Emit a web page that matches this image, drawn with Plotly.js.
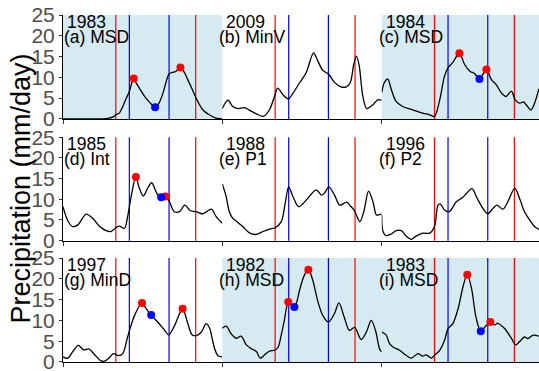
<!DOCTYPE html>
<html>
<head>
<meta charset="utf-8">
<script src="https://cdn.plot.ly/plotly-3.0.1.min.js"></script>
<style>html,body{margin:0;padding:0;overflow:hidden;background:#fff}</style>
</head>
<body>
<div id="chart" style="width:539px;height:371px"></div>
<script>
// ---- data (day of year, precipitation mm/day) ----
const years  = ["1983", "2009", "1984", "1985", "1988", "1996", "1997", "1982", "1983"];
const labels = ["(a) MSD", "(b) MinV", "(c) MSD", "(d) Int", "(e) P1", "(f) P2", "(g) MinD", "(h) MSD", "(i) MSD"];
const shaded = [true, false, true, false, false, false, false, true, true];
const redLines  = [121, 304];
const blueLines = [152, 243];
const yTicks = [0, 5, 10, 15, 20, 25];

const dayA  = [0, 60, 90, 105, 115, 121, 129, 137, 145, 152, 158, 162, 168, 175, 190, 202, 211, 220, 229, 237, 243, 250, 258, 269, 278, 286, 295, 305, 320, 335, 350, 365];
const precA = [0, 0, 0, 0.2, 0.5, 1.0, 1.4, 3.0, 5.0, 6.6, 8.8, 9.7, 8.6, 7.4, 5.0, 3.6, 2.8, 3.8, 6.2, 9.2, 10.8, 11.2, 11.4, 12.4, 11.2, 9.4, 7.4, 5.0, 2.2, 1.0, 0.2, 0];

const dayB  = [0, 13, 24, 36, 51, 62, 78, 94, 108, 120, 127, 139, 151, 162, 177, 192, 209, 219, 230, 244, 257, 272, 284, 293, 301, 307, 313, 322, 331, 345, 356, 365];
const precB = [2.5, 4.5, 3.0, 2.5, 2.7, 2.1, 1.2, 0.6, 2.2, 5.6, 7.4, 5.8, 4.8, 6.2, 8.7, 11.1, 15.9, 13.9, 11.7, 10.7, 8.8, 7.7, 7.7, 8.7, 13.1, 15.1, 13.1, 5.4, 2.5, 3.4, 4.6, 4.5];

const dayC  = [0, 6, 14, 22, 33, 48, 71, 94, 110, 121, 133, 144, 152, 163, 178, 190, 202, 213, 224, 240, 251, 262, 274, 285, 297, 306, 316, 325, 331, 342, 350, 360];
const precC = [6.4, 8.7, 9.6, 7.1, 4.2, 3.0, 2.2, 1.4, 1.0, 0.6, 4.6, 10.3, 12.3, 13.6, 15.8, 13.1, 11.5, 10.9, 9.6, 11.9, 9.5, 8.3, 6.3, 5.4, 6.7, 4.6, 3.8, 4.1, 3.4, 2.2, 3.7, 7.2];

const dayD  = [0, 11, 22, 34, 53, 68, 84, 99, 110, 122, 129, 141, 148, 156, 167, 175, 184, 194, 203, 213, 220, 225, 235, 244, 255, 267, 279, 291, 305, 320, 340, 351, 365];
const precD = [8.2, 4.8, 3.4, 3.8, 6.4, 5.4, 3.4, 2.4, 2.2, 3.2, 3.5, 3.0, 5.8, 10.6, 15.4, 12.7, 10.8, 12.7, 14.0, 11.9, 10.6, 10.5, 10.7, 9.4, 7.0, 7.0, 8.6, 7.3, 7.0, 6.5, 7.6, 5.8, 4.2];

const dayE  = [0, 9, 16, 24, 33, 47, 63, 78, 93, 108, 121, 135, 144, 152, 162, 175, 192, 215, 227, 234, 244, 257, 269, 285, 295, 303, 315, 324, 335, 345, 353, 360, 365];
const precE = [13.7, 10.6, 7.0, 5.4, 4.6, 3.4, 1.8, 1.5, 2.2, 2.8, 3.1, 4.6, 9.0, 13.0, 10.6, 8.2, 9.8, 12.3, 11.0, 11.5, 13.0, 11.0, 8.6, 9.3, 8.2, 7.2, 4.6, 7.0, 12.0, 9.4, 6.2, 6.3, 6.4];

const dayF  = [0, 3, 10, 22, 33, 45, 56, 68, 79, 94, 110, 121, 129, 134, 144, 155, 171, 186, 207, 217, 232, 243, 255, 264, 278, 289, 305, 316, 327, 339, 350, 360];
const precF = [6.2, 2.2, 1.2, 1.6, 2.4, 2.4, 1.1, 0.3, 1.1, 1.8, 1.8, 3.4, 8.6, 8.9, 7.4, 7.0, 9.4, 10.5, 12.6, 10.6, 7.8, 6.5, 7.8, 8.6, 7.6, 9.4, 12.7, 10.2, 7.0, 5.0, 3.4, 2.7];

const dayG  = [0, 11, 22, 35, 47, 60, 72, 85, 93, 104, 116, 127, 137, 148, 164, 181, 190, 202, 217, 233, 242, 255, 274, 286, 296, 307, 317, 328, 336, 342, 348, 355, 365];
const precG = [1.2, 0.9, 2.4, 4.0, 2.9, 3.1, 1.8, 0.4, 0.1, 0.8, 2.0, 1.5, 2.0, 6.0, 11.2, 14.2, 12.9, 11.3, 9.6, 7.6, 6.5, 8.6, 12.8, 9.2, 6.5, 6.4, 7.2, 9.2, 8.1, 5.5, 3.0, 1.5, 1.2];

const dayH  = [0, 9, 20, 32, 43, 55, 66, 78, 87, 97, 108, 120, 128, 135, 142, 147, 151, 158, 165, 171, 177, 188, 197, 207, 219, 230, 243, 257, 267, 280, 291, 303, 318, 330, 341, 351, 360, 365];
const precH = [8.1, 8.6, 6.8, 5.7, 6.2, 4.1, 3.2, 2.5, 0.9, 1.7, 2.6, 2.8, 3.6, 6.5, 10.0, 13.0, 14.4, 13.8, 13.2, 14.6, 17.3, 20.9, 22.2, 19.7, 14.5, 11.2, 9.6, 11.7, 14.2, 10.5, 7.6, 8.3, 5.4, 7.2, 10.0, 7.5, 3.2, 2.4];

const dayI  = [0, 10, 18, 26, 41, 56, 68, 83, 94, 102, 114, 121, 133, 144, 152, 163, 175, 187, 196, 206, 216, 227, 238, 249, 259, 266, 281, 297, 307, 316, 327, 335, 346, 360];
const precI = [7.2, 6.5, 4.4, 3.6, 2.8, 1.6, 0.9, 2.0, 1.4, 1.7, 0.9, 1.6, 2.8, 5.2, 8.0, 9.2, 12.8, 18.4, 21.0, 17.6, 10.8, 7.4, 8.6, 9.6, 8.9, 9.3, 8.1, 5.7, 4.1, 4.9, 6.0, 5.6, 6.4, 6.2];

// highlighted peaks (red) and minima (blue): panel index, day, value
const redPanel  = [0, 0, 2, 2, 3, 3, 6, 6, 7, 7, 8, 8];
const redDay    = [162, 269, 178, 240, 167, 235, 181, 274, 151, 197, 196, 249];
const redVal    = [9.7, 12.4, 15.8, 11.9, 15.4, 10.7, 14.2, 12.8, 14.4, 22.2, 21.0, 9.6];
const bluePanel = [0, 2, 3, 6, 7, 8];
const blueDay   = [211, 224, 225, 202, 165, 227];
const blueVal   = [2.8, 9.6, 10.5, 11.3, 13.2, 7.4];

const allDays = [dayA, dayB, dayC, dayD, dayE, dayF, dayG, dayH, dayI];
const allPrec = [precA, precB, precC, precD, precE, precF, precG, precH, precI];

// ---- layout helpers ----
const colDom = [[0, 0.3347], [0.3347, 0.6695], [0.6695, 1]];
const rowDom = [[0.7003, 1], [0.3496, 0.6476], [0, 0.2997]];
const colMax = [365, 365, 360.4];
const FONT = "Liberation Sans, Arial, Helvetica, sans-serif";

const traces = [];
const shapes = [];
const annotations = [];
const layout = {
  width: 539, height: 371,
  margin: {l: 63, r: 0, t: 15, b: 9},
  paper_bgcolor: "white", plot_bgcolor: "white",
  showlegend: false,
  font: {family: FONT, color: "black"}
};

for (let k = 0; k < 9; k++) {
  const row = Math.floor(k / 3), col = k % 3;
  const sfx = k === 0 ? "" : String(k + 1);
  const xr = "x" + sfx, yr = "y" + sfx;
  layout["xaxis" + sfx] = {
    domain: colDom[col], range: [0, colMax[col]], anchor: yr,
    tickvals: [0], ticks: "outside", ticklen: 4, tickwidth: 1, tickcolor: "#333",
    showticklabels: false, showline: true, linecolor: "black", linewidth: 1,
    showgrid: false, zeroline: false, fixedrange: true
  };
  layout["yaxis" + sfx] = {
    domain: rowDom[row], range: [-0.02, 25.01], anchor: xr,
    tickvals: yTicks, ticktext: yTicks.map(String), ticklabeloverflow: "allow",
    ticks: col === 0 ? "outside" : "", ticklen: 3, tickwidth: 1, tickcolor: "#333",
    showticklabels: col === 0, tickfont: {size: 21, color: "#4d4d4d", family: FONT},
    showline: col === 0, linecolor: "black", linewidth: 1,
    showgrid: false, zeroline: false, fixedrange: true
  };
  if (shaded[k]) {
    shapes.push({type: "rect", xref: xr + " domain", yref: yr + " domain",
      x0: 0, x1: 1, y0: 0, y1: 1, fillcolor: "rgb(214,234,241)", line: {width: 0}, layer: "below"});
  }
  redLines.forEach(d => shapes.push({type: "line", xref: xr, yref: yr + " domain",
    x0: d, x1: d, y0: 0, y1: 1, line: {color: "#ff0000", width: 1.2}, layer: "below"}));
  blueLines.forEach(d => shapes.push({type: "line", xref: xr, yref: yr + " domain",
    x0: d, x1: d, y0: 0, y1: 1, line: {color: "#0000ff", width: 1.2}, layer: "below"}));

  traces.push({
    type: "scatter", mode: "lines", x: allDays[k], y: allPrec[k], xaxis: xr, yaxis: yr,
    line: {color: "black", width: 1.3, shape: "spline", smoothing: 0.9}, hoverinfo: "skip"
  });

  const rx = [], ry = [], bx = [], by = [];
  redPanel.forEach((p, i) => { if (p === k) { rx.push(redDay[i]); ry.push(redVal[i]); } });
  bluePanel.forEach((p, i) => { if (p === k) { bx.push(blueDay[i]); by.push(blueVal[i]); } });
  if (rx.length) traces.push({type: "scatter", mode: "markers", x: rx, y: ry, xaxis: xr, yaxis: yr,
    marker: {color: "#ff0000", size: 8}, hoverinfo: "skip", cliponaxis: false});
  if (bx.length) traces.push({type: "scatter", mode: "markers", x: bx, y: by, xaxis: xr, yaxis: yr,
    marker: {color: "#0000ff", size: 8}, hoverinfo: "skip", cliponaxis: false});

  annotations.push({text: years[k], xref: xr + " domain", yref: yr + " domain", x: 0, y: 1,
    xanchor: "left", yanchor: "middle", xshift: 2, yshift: -7, showarrow: false,
    font: {size: 17.5, color: "black", family: FONT}});
  annotations.push({text: labels[k], xref: xr + " domain", yref: yr + " domain", x: 0, y: 1,
    xanchor: "left", yanchor: "middle", xshift: col === 0 ? -1 : -5, yshift: -21.7, showarrow: false,
    font: {size: 17.5, color: "black", family: FONT}});
}

annotations.push({text: "Precipitation (mm/day)", xref: "paper", yref: "paper",
  x: -0.0903, y: 0.5, xanchor: "center", yanchor: "middle", textangle: -90, showarrow: false,
  font: {size: 27, color: "black", family: FONT}});

layout.shapes = shapes;
layout.annotations = annotations;

Plotly.newPlot("chart", traces, layout, {staticPlot: true, displayModeBar: false});
</script>
</body>
</html>
